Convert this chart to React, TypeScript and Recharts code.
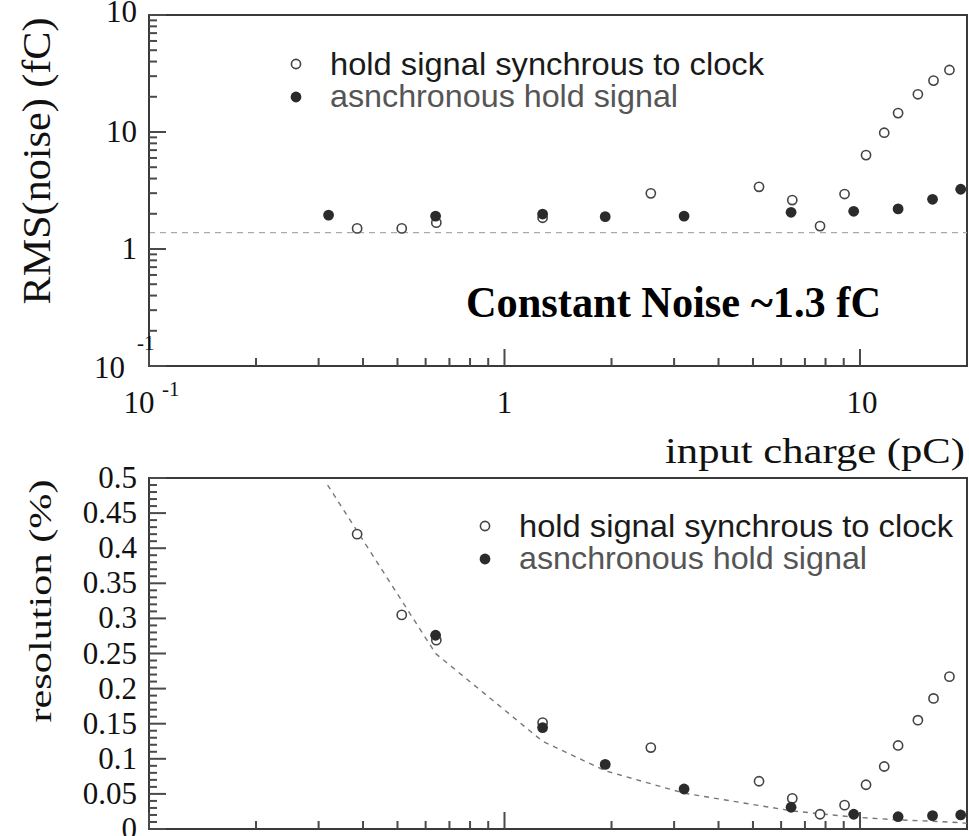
import { ScatterChart, Scatter, XAxis, YAxis, ReferenceLine, ReferenceArea, Legend, Label } from "recharts"

const SERIF = '"Liberation Serif", "Times New Roman", serif'
const SANS = '"Liberation Sans", Arial, sans-serif'
const AXIS = "#3a3a3a"
const TICK = "#4a4a4a"
const OPEN_STROKE = "#444"
const FILLED = "#2b2b2b"

const seriesNames = ["hold signal synchrous to clock", "asnchronous hold signal"]

// input charge (pC) of each measurement
const syncCharge = [0.385, 0.514, 0.643, 1.28, 2.58, 5.2, 6.45, 7.72, 9.05, 10.4, 11.7, 12.8, 14.55, 16.1, 17.85]
const asyncCharge = [0.32, 0.64, 1.28, 1.92, 3.2, 6.4, 9.6, 12.8, 16, 19.2]

// RMS(noise) in fC
const syncNoise = [1.5, 1.5, 1.68, 1.85, 2.99, 3.4, 2.62, 1.57, 2.95, 6.35, 9.86, 14.5, 21.0, 27.5, 33.9]
const asyncNoise = [1.95, 1.91, 1.99, 1.89, 1.91, 2.06, 2.1, 2.2, 2.66, 3.24]
const noiseLevel = 1.38

// resolution (%)
const syncRes = [0.42, 0.305, 0.269, 0.1515, 0.116, 0.068, 0.0436, 0.021, 0.034, 0.063, 0.089, 0.119, 0.155, 0.186, 0.217]
const asyncResCharge = [0.64, 1.28, 1.92, 3.2, 6.4, 9.6, 12.8, 16, 19.2]
const asyncRes = [0.276, 0.1445, 0.092, 0.057, 0.031, 0.021, 0.0175, 0.019, 0.02]
const fitCharge = [0.318, 0.64, 1.28, 1.92, 3.2, 6.4, 9.6, 12.8, 16, 19.2, 20]
const fitRes = [0.49, 0.25, 0.125, 0.083, 0.051, 0.026, 0.017, 0.013, 0.011, 0.009, 0.008]

// axis ticks
const chargeTicks = [0.1, 0.2, 0.3, 0.4, 0.5, 0.6, 0.7, 0.8, 0.9, 1, 2, 3, 4, 5, 6, 7, 8, 9, 10]
const chargeMajor = [0.1, 1, 10]
const noiseTicks = [0.1, 0.2, 0.3, 0.4, 0.5, 0.6, 0.7, 0.8, 0.9, 1, 2, 3, 4, 5, 6, 7, 8, 9, 10, 20, 30, 40, 50, 60, 70, 80, 90, 100]
const noiseMajor = [0.1, 1, 10, 100]
const resMajor = [0, 0.05, 0.1, 0.15, 0.2, 0.25, 0.3, 0.35, 0.4, 0.45, 0.5]
const resTicks = Array.from({ length: 51 }, (_, i) => i / 100)

const zip = (xs: number[], ys: number[]) => xs.map((x, i) => ({ x, y: ys[i] }))
const isMajorRes = (v: number) => resMajor.some((m) => Math.abs(m - v) < 1e-6)

const OpenDot = (p: any) => <circle cx={p.cx} cy={p.cy} r={4.6} fill="#fff" stroke={OPEN_STROKE} strokeWidth={1.6} />
const FilledDot = (p: any) => <circle cx={p.cx} cy={p.cy} r={5.4} fill={FILLED} />

function ChargeTick({ x, y, payload, showLabels }: any) {
  const v = payload.value
  const major = chargeMajor.includes(v)
  const len = major ? 17 : 8
  return (
    <g>
      <rect x={x - 1} y={y - len} width={2} height={len} fill={TICK} />
      {showLabels && major && v === 0.1 && (
        <g fontFamily={SERIF} fill="#111">
          <text x={x - 10} y={y + 47} fontSize={31} textAnchor="middle">10</text>
          <text x={x + 13} y={y + 30} fontSize={21}>-1</text>
        </g>
      )}
      {showLabels && major && v !== 0.1 && (
        <text x={x + (v === 10 ? 2 : 0)} y={y + 47} fontSize={31} textAnchor="middle" fontFamily={SERIF} fill="#111">
          {v}
        </text>
      )}
    </g>
  )
}

// ticks point into the frame, labels sit left of the axis
function NoiseTick({ x, y, payload }: any) {
  const v = payload.value
  const len = noiseMajor.includes(v) ? 17 : 8
  return (
    <g fontFamily={SERIF} fill="#111">
      <rect x={x} y={y - 1} width={len} height={2} fill={TICK} />
      {v === 0.1 && (
        <>
          <text x={x - 24} y={y + 12} fontSize={31} textAnchor="end">10</text>
          <text x={x - 12} y={y - 16} fontSize={21}>-1</text>
        </>
      )}
      {v === 100 && (
        <>
          <text x={x - 12} y={y + 7} fontSize={31} textAnchor="end">10</text>
          <text x={x - 6} y={y - 15} fontSize={21}>2</text>
        </>
      )}
      {(v === 1 || v === 10) && (
        <text x={x - 12} y={y + 10} fontSize={31} textAnchor="end">{v}</text>
      )}
    </g>
  )
}

function ResTick({ x, y, payload }: any) {
  const v = payload.value
  const major = isMajorRes(v)
  return (
    <g>
      <rect x={x} y={y - 1} width={major ? 17 : 8} height={2} fill={TICK} />
      {major && (
        <text x={x - 12} y={y + 10} fontSize={31} textAnchor="end" fontFamily={SERIF} fill="#111">
          {String(Math.round(v * 100) / 100)}
        </text>
      )}
    </g>
  )
}

function SeriesLegend() {
  return (
    <svg width={680} height={80} style={{ display: "block", overflow: "visible" }}>
      <circle cx={16} cy={24} r={4.6} fill="#fff" stroke={OPEN_STROKE} strokeWidth={1.6} />
      <text x={50} y={35} fontFamily={SANS} fontSize={32} fill="#1a1a1a" textLength={434} lengthAdjust="spacingAndGlyphs">
        {seriesNames[0]}
      </text>
      <circle cx={16} cy={57} r={5.4} fill={FILLED} />
      <text x={50} y={67} fontFamily={SANS} fontSize={32} fill="#555" textLength={348} lengthAdjust="spacingAndGlyphs">
        {seriesNames[1]}
      </text>
    </svg>
  )
}

export default function App() {
  return (
    <div style={{ position: "absolute", left: 0, top: 0, width: 969, height: 836, background: "#fff", overflow: "hidden" }}>
      <div style={{ position: "absolute", left: 0, top: 0 }}>
        <ScatterChart width={969} height={480} margin={{ top: 15, right: 2, bottom: 0, left: 0 }}>
          <XAxis
            type="number"
            dataKey="x"
            scale="log"
            domain={[0.1, 20]}
            allowDataOverflow
            ticks={chargeTicks}
            interval={0}
            height={114}
            tickSize={0}
            tickMargin={0}
            tickLine={false}
            axisLine={{ stroke: AXIS, strokeWidth: 2 }}
            tick={(p: any) => <ChargeTick {...p} showLabels />}
          >
            <Label
              content={({ viewBox }: any) => (
                <text
                  x={viewBox.x + viewBox.width - 2}
                  y={viewBox.y + 97}
                  textAnchor="end"
                  fontFamily={SERIF}
                  fontSize={36}
                  fill="#111"
                  textLength={300}
                  lengthAdjust="spacingAndGlyphs"
                >
                  input charge (pC)
                </text>
              )}
            />
          </XAxis>
          <YAxis
            type="number"
            dataKey="y"
            scale="log"
            domain={[0.1, 100]}
            allowDataOverflow
            ticks={noiseTicks}
            interval={0}
            width={149}
            tickSize={0}
            tickMargin={0}
            tickLine={false}
            axisLine={{ stroke: AXIS, strokeWidth: 2 }}
            tick={(p: any) => <NoiseTick {...p} />}
          >
            <Label
              content={({ viewBox }: any) => {
                const cx = viewBox.x + 36
                const cy = viewBox.y + 146
                return (
                  <text
                    transform={`translate(${cx},${cy}) rotate(-90)`}
                    textAnchor="middle"
                    dominantBaseline="central"
                    fontFamily={SERIF}
                    fontSize={39}
                    fill="#111"
                    textLength={287}
                    lengthAdjust="spacingAndGlyphs"
                  >
                    RMS(noise) (fC)
                  </text>
                )
              }}
            />
          </YAxis>
          <ReferenceArea x1={0.1} x2={20} y1={0.1} y2={100} fill="none" fillOpacity={0} stroke={AXIS} strokeWidth={2} />
          <ReferenceLine y={noiseLevel} stroke="#aaa" strokeWidth={1.4} strokeDasharray="6 5" />
          <Scatter name={seriesNames[0]} data={zip(syncCharge, syncNoise)} shape={OpenDot} isAnimationActive={false} />
          <Scatter name={seriesNames[1]} data={zip(asyncCharge, asyncNoise)} shape={FilledDot} isAnimationActive={false} />
          <Legend
            layout="horizontal"
            verticalAlign="middle"
            align="center"
            wrapperStyle={{ left: 280, top: 40, width: 680, height: 80 }}
            content={() => <SeriesLegend />}
          />
          <text x={466} y={317} fontFamily={SERIF} fontWeight="bold" fontSize={44} fill="#000" textLength={415} lengthAdjust="spacingAndGlyphs">
            Constant Noise ~1.3 fC
          </text>
        </ScatterChart>
      </div>

      <div style={{ position: "absolute", left: 0, top: 440 }}>
        <ScatterChart width={969} height={396} margin={{ top: 38, right: 2, bottom: 0, left: 0 }}>
          <XAxis
            type="number"
            dataKey="x"
            scale="log"
            domain={[0.1, 20]}
            allowDataOverflow
            ticks={chargeTicks}
            interval={0}
            height={7}
            tickSize={0}
            tickMargin={0}
            tickLine={false}
            axisLine={{ stroke: AXIS, strokeWidth: 2 }}
            tick={(p: any) => <ChargeTick {...p} showLabels={false} />}
          />
          <YAxis
            type="number"
            dataKey="y"
            domain={[0, 0.5]}
            allowDataOverflow
            ticks={resTicks}
            interval={0}
            width={149}
            tickSize={0}
            tickMargin={0}
            tickLine={false}
            axisLine={{ stroke: AXIS, strokeWidth: 2 }}
            tick={(p: any) => <ResTick {...p} />}
          >
            <Label
              content={({ viewBox }: any) => {
                const cx = viewBox.x + 40
                const cy = viewBox.y + 123
                return (
                  <text
                    transform={`translate(${cx},${cy}) rotate(-90)`}
                    textAnchor="middle"
                    dominantBaseline="central"
                    fontFamily={SERIF}
                    fontSize={32}
                    fill="#111"
                    textLength={243}
                    lengthAdjust="spacingAndGlyphs"
                  >
                    resolution (%)
                  </text>
                )
              }}
            />
          </YAxis>
          <ReferenceArea x1={0.1} x2={20} y1={0} y2={0.5} fill="none" fillOpacity={0} stroke={AXIS} strokeWidth={2} />
          <Scatter
            data={zip(fitCharge, fitRes)}
            line={{ stroke: "#777", strokeWidth: 1.4, strokeDasharray: "5 5" }}
            lineType="joint"
            shape={() => <g />}
            legendType="none"
            isAnimationActive={false}
          />
          <Scatter name={seriesNames[0]} data={zip(syncCharge, syncRes)} shape={OpenDot} isAnimationActive={false} />
          <Scatter name={seriesNames[1]} data={zip(asyncResCharge, asyncRes)} shape={FilledDot} isAnimationActive={false} />
          <Legend
            layout="horizontal"
            verticalAlign="middle"
            align="center"
            wrapperStyle={{ left: 469, top: 62, width: 680, height: 80 }}
            content={() => <SeriesLegend />}
          />
        </ScatterChart>
      </div>
    </div>
  )
}
